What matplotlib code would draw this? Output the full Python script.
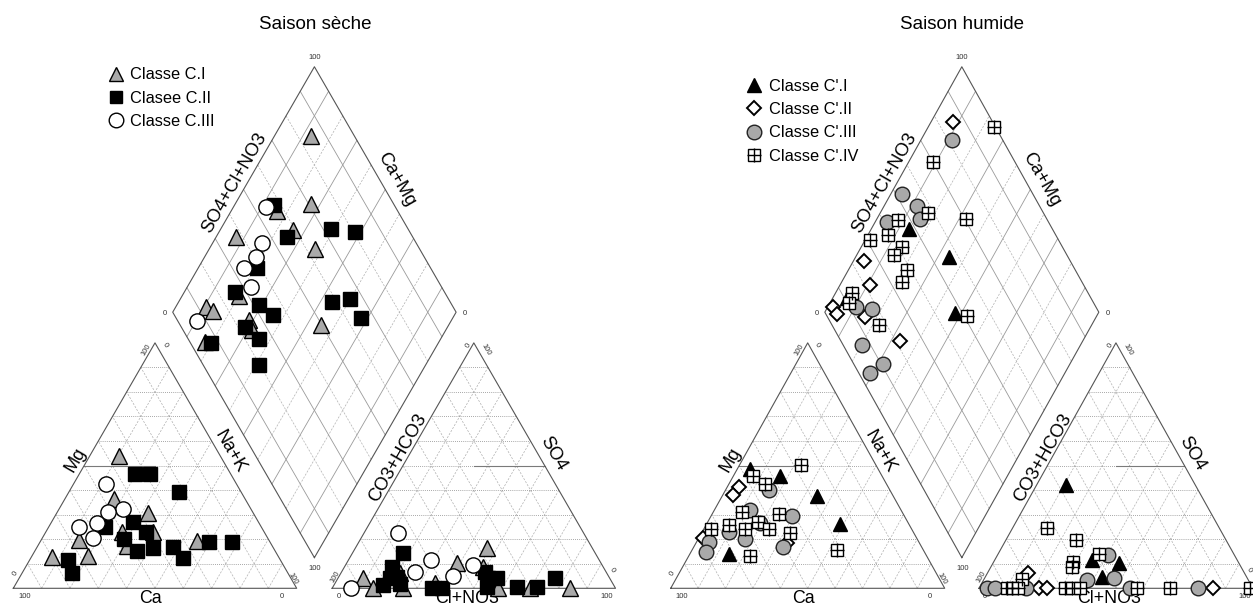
import numpy as np
import matplotlib
matplotlib.use("Agg")
import matplotlib.pyplot as plt
from matplotlib.lines import Line2D

plt.rcParams['font.family'] = ['Liberation Sans', 'DejaVu Sans']

# ================= DATA =================
# Cation triangle values in %: Mg and Na+K (Ca = 100 - Mg - Na+K)
# Anion triangle values in %: SO4 and Cl+NO3 (CO3+HCO3 = 100 - SO4 - Cl)
# Diamond values in %: Ca+Mg and SO4+Cl+NO3

# ---- Saison sèche ----
dry_labels = ["Classe C.I", "Clasee C.II", "Classe C.III"]

dry_c1_cat_mg = [53.9, 36.4, 30.8, 23.1, 22.8, 17.2, 19.3, 19.7, 12.9, 13.2]
dry_c1_cat_nak = [10.3, 17.4, 32.0, 37.8, 26.9, 31.4, 55.1, 13.3, 7.1, 19.9]
dry_c2_cat_mg = [46.6, 46.6, 39.1, 25.1, 26.9, 23.1, 20.0, 15.2, 16.3, 17.0, 12.2, 18.7, 19.0, 11.5, 6.4]
dry_c2_cat_nak = [19.6, 24.9, 38.9, 19.8, 28.7, 35.3, 29.1, 35.9, 41.0, 48.0, 53.9, 59.8, 67.6, 13.4, 17.6]
dry_c3_cat_mg = [42.5, 32.2, 31.2, 26.5, 25.1, 20.4]
dry_c3_cat_nak = [11.5, 22.5, 17.7, 16.2, 10.6, 17.8]

dry_c1_an_so4 = [16.3, 10.2, 8.6, 6.1, 0.0, 4.1, 0.0, 2.0, 0.0, 0.0, 0.0]
dry_c1_an_cl = [46.6, 39.1, 49.0, 20.9, 25.1, 8.8, 14.5, 35.3, 58.6, 69.8, 83.9]
dry_c2_an_so4 = [14.5, 8.6, 4.1, 1.3, 1.8, 4.7, 0.0, 0.0, 6.8, 4.1, 0.7, 4.1, 0.4, 0.7, 4.1]
dry_c2_an_cl = [17.9, 16.7, 18.2, 17.4, 23.1, 20.5, 35.1, 38.7, 50.6, 53.0, 54.3, 56.3, 64.9, 71.9, 76.6]
dry_c3_an_so4 = [22.4, 11.5, 6.8, 9.5, 5.0, 0.0]
dry_c3_an_cl = [12.2, 29.0, 25.9, 45.0, 40.3, 6.7]

dry_c1_dia_camg = [87.0, 83.8, 73.2, 92.9, 74.2, 62.6, 79.7, 89.4, 86.2, 45.1, 71.4, 68.5, 82.6]
dry_c1_dia_so4cl = [84.6, 57.6, 70.9, 37.6, 59.3, 63.0, 26.7, 12.9, 14.4, 49.7, 25.5, 24.3, 5.4]
dry_c2_dia_camg = [86.1, 75.1, 61.0, 51.9, 79.4, 82.2, 70.9, 64.0, 45.9, 40.1, 32.2, 71.4, 64.2, 80.3, 58.9]
dry_c2_dia_so4cl = [57.6, 55.6, 72.7, 80.6, 38.7, 25.9, 32.0, 35.0, 58.1, 65.2, 65.3, 22.4, 24.9, 7.1, 19.6]
dry_c3_dia_camg = [88.6, 82.8, 82.0, 83.8, 77.6, 89.5]
dry_c3_dia_so4cl = [54.4, 45.5, 40.6, 34.1, 32.8, 6.9]

# ---- Saison humide ----
wet_labels = ["Classe C'.I", "Classe C'.II", "Classe C'.III", "Classe C'.IV"]

wet_c1_cat_mg = [48.5, 45.9, 37.7, 26.2, 13.9]
wet_c1_cat_nak = [4.8, 16.9, 34.7, 48.7, 14.5]
wet_c2_cat_mg = [41.4, 38.0, 18.3, 20.4]
wet_c2_cat_nak = [4.1, 3.9, 33.4, 1.5]
wet_c3_cat_mg = [40.1, 31.9, 29.5, 19.0, 14.9, 23.1, 20.1, 17.0, 26.5]
wet_c3_cat_nak = [15.7, 13.1, 29.6, 4.3, 5.5, 9.9, 17.2, 32.4, 19.5]
wet_c4_cat_mg = [50.2, 45.9, 42.4, 31.2, 30.2, 24.0, 25.8, 24.2, 27.1, 24.0, 22.4, 15.6, 13.2]
wet_c4_cat_nak = [22.5, 7.1, 13.1, 10.4, 24.3, 2.7, 8.5, 15.1, 18.2, 23.8, 32.5, 53.0, 22.2]

wet_c1_an_so4 = [42.1, 11.5, 10.4, 4.7]
wet_c1_an_cl = [10.7, 35.4, 45.9, 42.5]
wet_c2_an_so4 = [6.4, 0.0, 0.0, 0.0]
wet_c2_an_cl = [14.8, 22.0, 24.9, 85.5]
wet_c3_an_so4 = [13.6, 3.4, 4.1, 0.0, 0.0, 0.0, 0.0, 0.0]
wet_c3_an_cl = [40.4, 37.6, 47.3, 2.8, 5.8, 17.2, 55.1, 80.0]
wet_c4_an_so4 = [24.5, 19.7, 10.8, 8.6, 14.0, 3.7, 0.0, 0.0, 0.0, 0.0, 0.0, 0.0, 0.0, 0.0, 0.0]
wet_c4_an_cl = [12.7, 25.5, 29.0, 29.5, 36.9, 13.8, 10.1, 11.9, 14.3, 31.4, 33.8, 36.9, 57.7, 69.7, 99.0]

wet_c1_dia_camg = [86.1, 65.8, 94.9, 52.3]
wet_c1_dia_so4cl = [47.8, 56.6, 10.8, 47.3]
wet_c2_dia_camg = [91.9, 96.2, 89.1, 98.0, 95.2, 84.4, 66.7]
wet_c2_dia_so4cl = [85.7, 24.8, 22.0, 4.2, 3.9, 13.8, 21.6]
wet_c3_dia_camg = [88.7, 95.8, 87.9, 84.2, 95.5, 89.7, 83.5, 79.9, 68.3, 71.1]
wet_c3_dia_so4cl = [81.3, 52.4, 55.4, 53.7, 41.1, 12.5, 17.7, 6.8, 10.6, 4.1]
wet_c4_dia_camg = [76.0, 90.9, 82.7, 67.6, 92.0, 98.2, 92.6, 85.3, 86.3, 78.7, 78.2, 94.1, 92.9, 77.5, 47.4]
wet_c4_dia_so4cl = [99.5, 70.1, 57.8, 70.4, 45.6, 31.2, 38.9, 41.4, 37.0, 38.5, 34.3, 13.7, 10.8, 17.3, 51.0]

# ================= GEOMETRY =================
H = np.sqrt(3) / 2
G = 0.125  # gap between triangles


def cat_xy(mg, nak):
    mg = np.asarray(mg, float) / 100
    nak = np.asarray(nak, float) / 100
    return nak + mg / 2, mg * H


def an_xy(so4, cl):
    so4 = np.asarray(so4, float) / 100
    cl = np.asarray(cl, float) / 100
    return 1 + G + cl + so4 / 2, so4 * H


def dia_xy(camg, so4cl):
    a = np.asarray(camg, float) / 100
    b = np.asarray(so4cl, float) / 100
    return 1 + G / 2 + 0.5 * (b - a), G * H + H * (a + b)


W, HH = 1253, 609
fig = plt.figure(figsize=(W / 100, HH / 100), dpi=100)

EDGE = '#555555'
HLINE = '#8a8a8a'
DLINE = '#b0b0b0'
DSOLID = '#9a9a9a'
GRAY = '#a9a9a9'
TICKC = '#333333'


def make_axes(px0, py0, sx, sy):
    ax = fig.add_axes([0, 0, 1, 1])
    ax.set_xlim(-px0 / sx, (W - px0) / sx)
    ax.set_ylim((py0 - HH) / sy, py0 / sy)
    ax.axis('off')
    ax.patch.set_alpha(0)
    return ax


def tri_grid(ax, ox, solid_seg):
    for k in range(1, 10):
        t = k / 10
        ax.plot([ox + t / 2, ox + 1 - t / 2], [t * H, t * H], color=HLINE,
                lw=0.6, ls=(0, (1, 1.5)), zorder=1)
        ax.plot([ox + t, ox + t + (1 - t) / 2], [0, (1 - t) * H], color=DLINE,
                lw=0.5, ls=(0, (3, 2)), zorder=1)
        ax.plot([ox + 1 - t, ox + (1 - t) / 2], [0, (1 - t) * H], color=DLINE,
                lw=0.5, ls=(0, (3, 2)), zorder=1)
    ax.plot([ox + solid_seg[0], ox + solid_seg[1]], [0.5 * H, 0.5 * H],
            color='#7a7a7a', lw=0.8, zorder=1)
    ax.plot([ox, ox + 1, ox + 0.5, ox], [0, 0, H, 0], color=EDGE, lw=0.8, zorder=2)


def dia_grid(ax):
    for k in range(1, 10):
        t = k * 10
        solid = (k % 2 == 1)
        kw = dict(color=DSOLID, lw=0.6) if solid else dict(color=DLINE, lw=0.5, ls=(0, (3, 2)))
        x, y = dia_xy([t, t], [0, 100])
        ax.plot(x, y, zorder=1, **kw)
        x, y = dia_xy([0, 100], [t, t])
        ax.plot(x, y, zorder=1, **kw)
    x, y = dia_xy([0, 100, 100, 0, 0], [0, 0, 100, 100, 0])
    ax.plot(x, y, color=EDGE, lw=0.8, zorder=2)


def labels(ax, title):
    fs = 13.2
    ax.text(0.220, 0.453, 'Mg', rotation=60, ha='center', va='center', fontsize=fs)
    ax.text(0.765, 0.482, 'Na+K', rotation=-60, ha='center', va='center', fontsize=fs)
    ax.text(0.485, -0.0675, 'Ca', ha='center', va='bottom', fontsize=12.8)
    o = 1 + G
    ax.text(o + 0.233, 0.459, 'CO3+HCO3', rotation=60, ha='center', va='center', fontsize=fs)
    ax.text(o + 0.780, 0.476, 'SO4', rotation=-60, ha='center', va='center', fontsize=fs)
    ax.text(o + 0.475, -0.0675, 'Cl+NO3', ha='center', va='bottom', fontsize=12.8)
    ax.text(0.782, 1.429, 'SO4+Cl+NO3', rotation=60, ha='center', va='center', fontsize=fs)
    ax.text(1.353, 1.441, 'Ca+Mg', rotation=-60, ha='center', va='center', fontsize=fs)
    ax.text(1.064, 1.988, title, ha='center', va='center', fontsize=13.5)
    ts = 5.5
    tk = dict(ha='center', va='center', fontsize=ts, color=TICKC)
    ax.text(0.041, -0.030, '100', **tk)
    ax.text(0.947, -0.030, '0', **tk)
    ax.text(0.006, 0.053, '0', rotation=60, **tk)
    ax.text(0.471, 0.841, '100', rotation=60, **tk)
    ax.text(0.535, 0.858, '0', rotation=-60, **tk)
    ax.text(0.988, 0.035, '100', rotation=-60, **tk)
    ax.text(o + 0.022, -0.030, '0', **tk)
    ax.text(o + 0.969, -0.030, '100', **tk)
    ax.text(o + 0.010, 0.041, '100', rotation=60, **tk)
    ax.text(o + 0.481, 0.858, '0', rotation=60, **tk)
    ax.text(o + 0.543, 0.841, '100', rotation=-60, **tk)
    ax.text(o + 0.987, 0.065, '0', rotation=-60, **tk)
    ax.text(1.064, 0.071, '100', **tk)
    ax.text(1.062, 1.874, '100', **tk)
    ax.text(0.535, 0.970, '0', **tk)
    ax.text(1.594, 0.970, '0', **tk)


SQ_MS, PL_MS = 9.2, 10.2


def plot_set(ax, xy_list, style):
    for x, y in xy_list:
        if style == 'grid':
            ax.plot(x, y, ls='none', marker='s', ms=SQ_MS, mfc='white', mec='black',
                    mew=1.0, zorder=5)
            ax.plot(x, y, ls='none', marker='+', ms=PL_MS, mec='black', mew=1.0, zorder=6)
        else:
            ax.plot(x, y, ls='none', zorder=5, **style)
    if style == 'grid':
        return (Line2D([], [], ls='none', marker='s', ms=SQ_MS, mfc='white', mec='black', mew=1.0),
                Line2D([], [], ls='none', marker='+', ms=PL_MS, mec='black', mew=1.0))
    return Line2D([], [], ls='none', **style)


# ================= LEFT: Saison sèche =================
axL = make_axes(13.3, 588.3, 283.4, 283.4)
tri_grid(axL, 0, (0.25, 0.5))
tri_grid(axL, 1 + G, (0.5, 0.75))
dia_grid(axL)
labels(axL, 'Saison sèche')

sty_tri = dict(marker='^', ms=11, mfc=GRAY, mec='black', mew=1.0)
sty_sq = dict(marker='s', ms=9.6, mfc='black', mec='black', mew=1.0)
sty_ci = dict(marker='o', ms=11, mfc='white', mec='black', mew=1.0)

h1 = plot_set(axL, [cat_xy(dry_c1_cat_mg, dry_c1_cat_nak), an_xy(dry_c1_an_so4, dry_c1_an_cl),
                    dia_xy(dry_c1_dia_camg, dry_c1_dia_so4cl)], sty_tri)
h2 = plot_set(axL, [cat_xy(dry_c2_cat_mg, dry_c2_cat_nak), an_xy(dry_c2_an_so4, dry_c2_an_cl),
                    dia_xy(dry_c2_dia_camg, dry_c2_dia_so4cl)], sty_sq)
h3 = plot_set(axL, [cat_xy(dry_c3_cat_mg, dry_c3_cat_nak), an_xy(dry_c3_an_so4, dry_c3_an_cl),
                    dia_xy(dry_c3_dia_camg, dry_c3_dia_so4cl)], sty_ci)

hs = [Line2D([], [], ls='none', marker='^', ms=10, mfc=GRAY, mec='black', mew=1.0),
      Line2D([], [], ls='none', marker='s', ms=8.5, mfc='black', mec='black', mew=1.0),
      Line2D([], [], ls='none', marker='o', ms=10.5, mfc='white', mec='black', mew=1.0)]
axL.legend(hs, dry_labels, loc='upper left', bbox_to_anchor=(0.332, 1.838),
           bbox_transform=axL.transData, frameon=False, borderpad=0, borderaxespad=0,
           handlelength=1.0, handletextpad=0.4, labelspacing=0.5, fontsize=11.8)

# ================= RIGHT: Saison humide =================
axR = make_axes(670.7, 588.3, 274.0, 283.4)
tri_grid(axR, 0, (0.25, 0.5))
tri_grid(axR, 1 + G, (0.5, 0.75))
dia_grid(axR)
labels(axR, 'Saison humide')

sty_btri = dict(marker='^', ms=10.5, mfc='black', mec='black', mew=1.0)
sty_dia = dict(marker='D', ms=7.5, mfc='white', mec='black', mew=1.4)
sty_gci = dict(marker='o', ms=10.5, mfc=GRAY, mec='#222222', mew=1.0)

g1 = plot_set(axR, [cat_xy(wet_c1_cat_mg, wet_c1_cat_nak), an_xy(wet_c1_an_so4, wet_c1_an_cl),
                    dia_xy(wet_c1_dia_camg, wet_c1_dia_so4cl)], sty_btri)
g2 = plot_set(axR, [cat_xy(wet_c2_cat_mg, wet_c2_cat_nak), an_xy(wet_c2_an_so4, wet_c2_an_cl),
                    dia_xy(wet_c2_dia_camg, wet_c2_dia_so4cl)], sty_dia)
g3 = plot_set(axR, [cat_xy(wet_c3_cat_mg, wet_c3_cat_nak), an_xy(wet_c3_an_so4, wet_c3_an_cl),
                    dia_xy(wet_c3_dia_camg, wet_c3_dia_so4cl)], sty_gci)
g4 = plot_set(axR, [cat_xy(wet_c4_cat_mg, wet_c4_cat_nak), an_xy(wet_c4_an_so4, wet_c4_an_cl),
                    dia_xy(wet_c4_dia_camg, wet_c4_dia_so4cl)], 'grid')

axR.legend([g1, g2, g3, g4], wet_labels, loc='upper left', bbox_to_anchor=(0.274, 1.797),
           bbox_transform=axR.transData, frameon=False, borderpad=0, borderaxespad=0,
           handlelength=1.0, handletextpad=0.4, labelspacing=0.5, fontsize=11.8)

fig.savefig('out.png', dpi=100)
